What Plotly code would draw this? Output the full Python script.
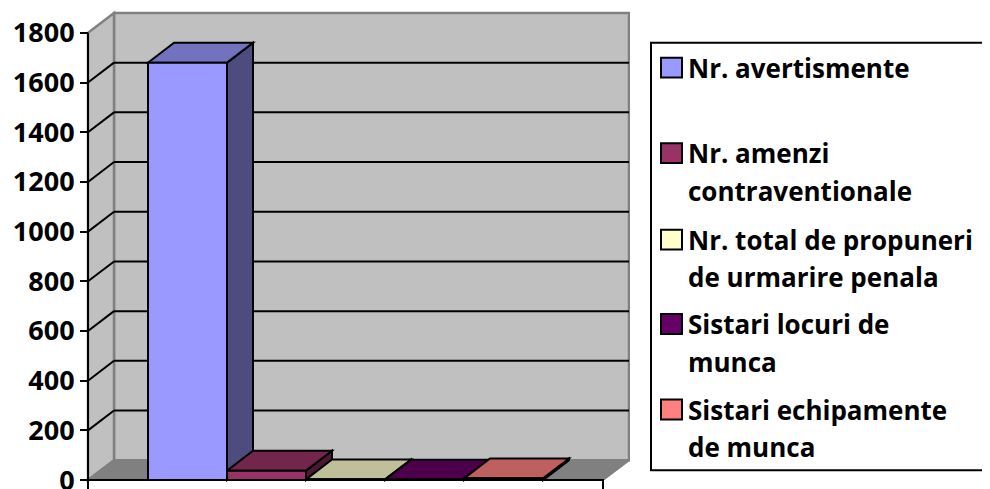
import plotly.graph_objects as go

# ---------------- data ----------------
series_names = [
    "Nr. avertismente",
    "Nr. amenzi contraventionale",
    "Nr. total de propuneri de urmarire penala",
    "Sistari locuri de munca",
    "Sistari echipamente de munca",
]
legend_lines = [
    ["Nr. avertismente"],
    ["Nr. amenzi", "contraventionale"],
    ["Nr. total de propuneri", "de urmarire penala"],
    ["Sistari locuri de", "munca"],
    ["Sistari echipamente", "de munca"],
]
values = [1680, 38, 3, 2, 7]
front_colors = ["#9999FF", "#993366", "#FFFFCC", "#660066", "#FF8080"]
tick_values = [0, 200, 400, 600, 800, 1000, 1200, 1400, 1600, 1800]

# ---------------- geometry (pseudo-3D) ----------------
OFF = 8                 # page offset of the figure inside the browser window
W, H = 990, 489
L, R = 80 - OFF, 630 - OFF   # plot area in figure pixels
FLOOR_W = 515           # front floor width (x units = px)
DX, DY = 26, 80         # depth offset (x units, value units)
GAP = 60                # gap before first bar
BW = 79                 # bar width
YMAX = 1800
X0 = -8
X1 = X0 + (R - L)
UPP = 4.0               # value units per pixel
ZERO_PX = 483 - OFF     # figure pixel of value 0
Y_TOP = ZERO_PX * UPP
Y_BOT = -(H - ZERO_PX) * UPP

def shade(hexc, f):
    hexc = hexc.lstrip("#")
    r, g, b = (int(hexc[i:i + 2], 16) for i in (0, 2, 4))
    return "#%02X%02X%02X" % (int(r * f), int(g * f), int(b * f))

def path(pts):
    return "M " + " L ".join(f"{x},{y}" for x, y in pts) + " Z"

shapes = []
WALL = "#C0C0C0"
EDGE = "#808080"
# back wall
shapes.append(dict(type="path", xref="x", yref="y", layer="below",
                   path=path([(DX, DY), (FLOOR_W + DX, DY), (FLOOR_W + DX, YMAX + DY), (DX, YMAX + DY)]),
                   fillcolor=WALL, line=dict(color=EDGE, width=2.5)))
# left wall
shapes.append(dict(type="path", xref="x", yref="y", layer="below",
                   path=path([(0, 0), (DX, DY), (DX, YMAX + DY), (0, YMAX)]),
                   fillcolor=WALL, line=dict(color=EDGE, width=2.5)))
# floor
shapes.append(dict(type="path", xref="x", yref="y", layer="below",
                   path=path([(0, 0), (FLOOR_W, 0), (FLOOR_W + DX, DY), (DX, DY)]),
                   fillcolor="#808080", line=dict(color=EDGE, width=2)))
# gridlines
for v in tick_values[1:-1]:
    shapes.append(dict(type="line", xref="x", yref="y", layer="below",
                       x0=0, y0=v, x1=DX, y1=v + DY, line=dict(color="black", width=2)))
    shapes.append(dict(type="line", xref="x", yref="y", layer="below",
                       x0=DX, y0=v + DY, x1=FLOOR_W + DX, y1=v + DY, line=dict(color="black", width=2)))

# bar side & top faces (front faces are real bar traces above)
bar_left = [GAP + i * BW for i in range(len(values))]
for xl, v, c in zip(bar_left, values, front_colors):
    xr = xl + BW
    shapes.append(dict(type="path", xref="x", yref="y", layer="below",
                       path=path([(xr, 0), (xr + DX, DY), (xr + DX, v + DY), (xr, v)]),
                       fillcolor=shade(c, 0.5), line=dict(color="black", width=2)))
    shapes.append(dict(type="path", xref="x", yref="y", layer="below",
                       path=path([(xl, v), (xr, v), (xr + DX, v + DY), (xl + DX, v + DY)]),
                       fillcolor=shade(c, 0.75), line=dict(color="black", width=2)))

fig = go.Figure()
for name, xl, v, c in zip(series_names, bar_left, values, front_colors):
    fig.add_trace(go.Bar(x=[xl + BW / 2], y=[v], width=BW, base=0, name=name,
                         marker=dict(color=c, line=dict(color="black", width=2)),
                         showlegend=False, hoverinfo="name+y"))

# axis lines (front vertical value axis and floor front edge)
fig.add_trace(go.Scatter(x=[0, 0], y=[Y_BOT, YMAX], mode="lines",
                         line=dict(color="black", width=2), showlegend=False, hoverinfo="skip"))
fig.add_trace(go.Scatter(x=[0, FLOOR_W, FLOOR_W], y=[0, 0, Y_BOT], mode="lines",
                         line=dict(color="black", width=2), showlegend=False, hoverinfo="skip"))

# ---------------- custom legend ----------------
def px_x(p):  # screen pixel -> paper
    return (p - OFF - L) / (R - L)

def px_y(p):
    return (H - (p - OFF)) / H

FONT = "Open Sans"
shapes.append(dict(type="rect", xref="paper", yref="paper", layer="above",
                   x0=px_x(651), x1=px_x(1010), y0=px_y(473), y1=px_y(43),
                   fillcolor="white", line=dict(color="black", width=2)))
annotations = []
entry_y = [68, 154, 241, 326, 412]
LINE_H = 38
for lines, yc, c in zip(legend_lines, entry_y, front_colors):
    shapes.append(dict(type="rect", xref="paper", yref="paper", layer="above",
                       x0=px_x(661), x1=px_x(682), y0=px_y(yc + 10), y1=px_y(yc - 10),
                       fillcolor=c, line=dict(color="black", width=2)))
    for k, t in enumerate(lines):
        annotations.append(dict(xref="paper", yref="paper", x=px_x(686), y=px_y(yc + k * LINE_H),
                                xanchor="left", yanchor="middle", text=t, showarrow=False,
                                font=dict(family=FONT, size=26, color="black", weight="bold")))

fig.update_layout(
    width=W, height=H,
    margin=dict(l=L, r=W - R, t=0, b=0, pad=0),
    paper_bgcolor="white", plot_bgcolor="white",
    barmode="overlay",
    xaxis=dict(range=[X0, X1], visible=False, fixedrange=True),
    yaxis=dict(range=[Y_BOT, Y_TOP], anchor="free", position=(0 - X0) / (X1 - X0),
               tickvals=tick_values, ticktext=[str(t) for t in tick_values],
               ticks="outside", ticklen=8, tickwidth=2, tickcolor="black",
               ticklabeloverflow="allow",
               showgrid=False, zeroline=False, showline=False,
               tickfont=dict(family=FONT, size=27, color="black", weight="bold")),
    shapes=shapes, annotations=annotations,
    showlegend=False,
)

fig.write_html("out.html")
